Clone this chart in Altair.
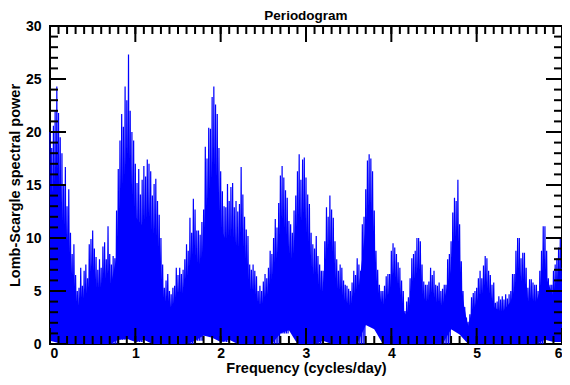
import altair as alt
import pandas as pd

# Peak power every 0.02 cycles/day (0.00 ... 6.00)
peaks = [
    20.0, 18.5, 20.6, 22.0, 24.3,
    21.8, 19.5, 18.0, 15.0, 16.7,
    13.0, 14.6, 10.5, 8.5, 9.4,
    6.5, 5.0, 5.3, 7.2, 5.5,
    6.9, 7.5, 6.2, 9.4, 9.9,
    10.7, 9.0, 8.2, 7.0, 8.0,
    7.2, 9.2, 9.6, 8.0, 11.1,
    8.5, 7.5, 8.3, 8.1, 12.6,
    16.5, 19.2, 21.7, 20.5, 24.3,
    23.0, 27.3, 22.0, 20.0, 19.2,
    17.0, 15.2, 16.5, 14.1, 15.5,
    16.8, 15.8, 17.4, 17.0, 16.3,
    14.0, 15.1, 15.6, 13.5, 12.2,
    10.0, 7.5, 5.3, 6.0, 6.6,
    5.0, 4.7, 5.3, 5.5, 7.2,
    6.5, 7.2, 6.6, 7.0, 8.0,
    9.4, 8.8, 11.9, 10.5, 13.7,
    12.7, 10.7, 10.7, 10.3, 11.5,
    12.7, 18.6, 17.5, 20.4, 20.3,
    23.3, 24.3, 22.6, 21.7, 18.5,
    16.3, 14.4, 13.0, 12.9, 15.1,
    13.5, 14.8, 15.2, 12.9, 13.5,
    12.5, 13.2, 16.7, 14.1, 12.0,
    10.8, 10.2, 7.5, 7.0, 7.5,
    6.9, 6.4, 5.0, 5.5, 5.0,
    5.9, 6.6, 6.2, 7.2, 8.8,
    8.5, 10.0, 11.8, 11.0, 13.3,
    15.9, 16.8, 15.7, 14.5, 13.8,
    11.6, 11.3, 10.5, 12.6, 14.0,
    16.3, 17.9, 15.5, 17.4, 17.6,
    15.7, 14.1, 13.2, 10.5, 9.4,
    9.0, 10.2, 8.3, 7.5, 6.9,
    6.9, 9.7, 12.9, 12.0, 14.0,
    12.7, 11.9, 9.7, 8.0, 6.9,
    7.5, 7.2, 6.0, 5.6, 5.5,
    5.2, 5.0, 5.8, 6.9, 6.5,
    8.1, 7.5, 6.9, 11.3, 12.0,
    14.6, 17.3, 17.9, 17.5, 16.3,
    12.6, 8.8, 7.0, 5.6, 5.0,
    5.0, 5.5, 6.4, 6.6, 6.6,
    8.8, 9.5, 9.1, 8.5, 7.7,
    7.2, 6.0, 5.0, 3.1, 4.0,
    4.4, 6.2, 8.1, 8.5, 8.8,
    10.0, 10.0, 9.7, 7.5, 5.9,
    5.6, 5.6, 5.9, 7.2, 6.5,
    6.9, 5.6, 5.5, 5.8, 5.0,
    5.2, 5.6, 5.6, 8.0, 8.5,
    9.7, 12.4, 13.8, 13.5, 15.5,
    11.3, 7.8, 5.0, 3.5, 2.5,
    2.1, 2.8, 4.4, 4.8, 5.0,
    5.3, 6.2, 6.9, 6.2, 7.4,
    8.3, 8.1, 6.9, 6.5, 5.6,
    5.8, 3.9, 4.0, 4.5, 4.2,
    4.5, 4.2, 4.7, 4.3, 4.7,
    5.0, 6.6, 6.6, 8.8, 10.0,
    10.0, 8.1, 8.6, 8.6, 7.2,
    5.3, 6.1, 6.1, 5.8, 5.6,
    5.6, 5.0, 6.9, 8.8, 11.1,
    11.1, 8.8, 6.2, 5.6, 5.6,
    6.9, 7.5, 8.1, 9.1, 10.0,
    7.2,
]

# Level up to which the trace is solid blue, every 0.1 cycles/day (0.0 ... 6.0)
core = [
    15, 13, 7, 3, 3.5, 4.5, 4.5, 5, 9, 15,
    12, 11, 9, 3.5, 2.5, 3.5, 5, 6, 9, 15,
    11, 9, 8, 4, 3, 3.5, 5, 10, 6, 10,
    9, 5, 5, 6, 3.5, 3, 4, 11, 6, 3.5,
    5, 3.5, 2.5, 6, 4, 4, 3.5, 7, 6, 1.5,
    4, 5, 3.5, 3, 4, 6.5, 4, 4, 6.5, 4.5,
    5,
]

# Lowest power between peaks, for each 0.1 cycles/day band
trough_bands = [
    0.3, 0.1, 0, 0, 0, 0, 0, 0, 0.4, 0.5,
    0.2, 0.4, 0, 0, 0, 0, 0, 0.3, 0.8, 0.6,
    0.2, 0.4, 0, 0, 0, 0, 0, 1.0, 1.3, 0,
    0, 0, 0.3, 0, 0, 0, 0, 1.8, 1.4, 0,
    0, 0, 0, 0, 0, 0, 0, 1.4, 0.9, 0,
    0, 0, 0, 0, 0, 0, 0, 0, 0.4, 0.2,
]

x_major = [0, 1, 2, 3, 4, 5, 6]
x_minor = [i / 10 for i in range(61)]
y_major = [0, 5, 10, 15, 20, 25, 30]
y_minor = list(range(31))

rows = []
for i, p in enumerate(peaks):
    f = i * 0.02
    rows.append({"f": round(f, 3), "p": p})
    if i < len(peaks) - 1:
        rows.append({"f": round(f + 0.01, 3),
                     "p": trough_bands[min(int(f * 10 + 1e-9), 59)]})
df = pd.DataFrame(rows)

core_df = pd.DataFrame({
    "f": [i / 10 for i in range(len(core))],
    "p": core,
    "lo": [trough_bands[min(i, 59)] for i in range(len(core))],
})

W, H = 512, 318
FONT = "Liberation Sans"
BLUE = "#0000FF"
xs = alt.Scale(domain=[0, 6], nice=False, zero=False)
ys = alt.Scale(domain=[0, 30], nice=False)

X_AXIS = alt.Axis(values=x_major, format="d", ticks=False, domain=False,
                  grid=False, labelPadding=2, titlePadding=1,
                  title="Frequency (cycles/day)")
Y_AXIS = alt.Axis(values=y_major, format="d", ticks=False, domain=False,
                  grid=False, labelPadding=9, titlePadding=3,
                  title="Lomb-Scargle spectral power")

area = alt.Chart(core_df).mark_area(color=BLUE, opacity=1).encode(
    x=alt.X("f:Q", scale=xs, axis=X_AXIS),
    y=alt.Y("p:Q", scale=ys, axis=Y_AXIS),
    y2="lo:Q",
)

line = alt.Chart(df).mark_line(color=BLUE, strokeWidth=1.2).encode(
    x=alt.X("f:Q", scale=xs, axis=X_AXIS),
    y=alt.Y("p:Q", scale=ys, axis=Y_AXIS),
)


def xticks(values, length):
    d = alt.Chart(pd.DataFrame({"v": values})).mark_rule(color="black", strokeWidth=2)
    xe = alt.X("v:Q", scale=xs, axis=X_AXIS)
    top = d.encode(x=xe, y=alt.value(0), y2=alt.value(length))
    bottom = d.encode(x=xe, y=alt.value(H), y2=alt.value(H - length))
    return [top, bottom]


def yticks(values, length):
    d = alt.Chart(pd.DataFrame({"v": values})).mark_rule(color="black", strokeWidth=2)
    ye = alt.Y("v:Q", scale=ys, axis=Y_AXIS)
    left = d.encode(y=ye, x=alt.value(0), x2=alt.value(length))
    right = d.encode(y=ye, x=alt.value(W), x2=alt.value(W - length))
    return [left, right]


layers = [area, line] + xticks(x_minor, 8) + xticks(x_major, 16) \
    + yticks(y_minor, 8) + yticks(y_major, 16)

chart = (
    alt.layer(*layers)
    .properties(
        width=W,
        height=H,
        autosize="none",
        background="white",
        padding={"left": 42, "top": 18, "right": 0, "bottom": 33},
        title=alt.TitleParams("Periodogram", font=FONT, fontSize=13.5,
                              fontWeight="bold", color="black", offset=-3),
    )
    .configure_view(stroke="black", strokeWidth=2)
    .configure_axis(labelFont=FONT, labelFontSize=14, labelFontWeight="bold",
                    labelColor="black", titleFont=FONT, titleFontSize=14.5,
                    titleFontWeight="bold", titleColor="black")
)

chart.save("out.html", embed_options={"renderer": "svg", "actions": False})
